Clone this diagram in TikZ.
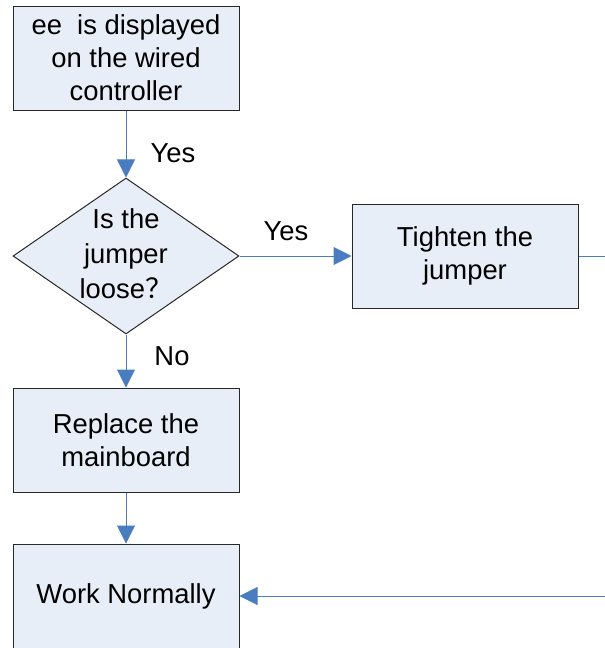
\documentclass[tikz,border=0pt]{standalone}
\usepackage{fontspec}
\setmainfont{Liberation Sans}
\newfontfamily\cjk{Noto Sans CJK SC}
\usetikzlibrary{shapes.geometric,arrows.meta}
\definecolor{boxfill}{RGB}{232,238,247}
\definecolor{boxline}{RGB}{40,40,40}
\definecolor{arrowblue}{RGB}{74,124,192}
\tikzset{
  box/.style={draw=boxline, line width=1pt, fill=boxfill, minimum width=226pt, minimum height=104pt, inner sep=0pt, align=center, font=\fontsize{27.4}{33}\selectfont},
  decision/.style={diamond, draw=boxline, line width=1pt, fill=boxfill, minimum width=226pt, minimum height=156pt, inner sep=0pt},
  dtext/.style={align=center, inner sep=0pt, font=\fontsize{27.4}{35}\selectfont},
  conn/.style={draw=arrowblue, line width=1pt},
  arr/.style={conn, -{Triangle[length=18pt,width=18pt]}},
  lbl/.style={inner sep=0pt, font=\fontsize{27.4}{33}\selectfont}
}
\begin{document}
\begin{tikzpicture}[x=1pt,y=-1pt]
\useasboundingbox (0,0) rectangle (605,648);
\node[box] (start) at (126,58) {ee\ \ is displayed\\on the wired\\controller};
\node[decision] (dec) at (126,256) {};
\node[dtext] (dectext) at (126,254) {Is the\\jumper\\loose{\cjk ？}};
\node[box] (tight) at (465,256) {Tighten the\\jumper};
\node[box] (repl) at (126,440) {Replace the\\mainboard};
\node[box, minimum height=110pt] (work) at (126,599) {};
\node[lbl] (worktext) at (126,596) {Work Normally};
\coordinate (r1) at (606,256);
\coordinate (r2) at (606,596);
\draw[arr] (start) -- (dec);
\draw[arr] (dec) -- (tight);
\draw[arr] (dec) -- (repl);
\draw[arr] (repl) -- (work);
\draw[conn] (tight) -- (r1);
\draw[arr] (r2) -- (work.east |- r2);
\node[lbl] (yes1) at (173,153) {Yes};
\node[lbl] (yes2) at (286,231) {Yes};
\node[lbl] (no1) at (172,356) {No};
\end{tikzpicture}
\end{document}
